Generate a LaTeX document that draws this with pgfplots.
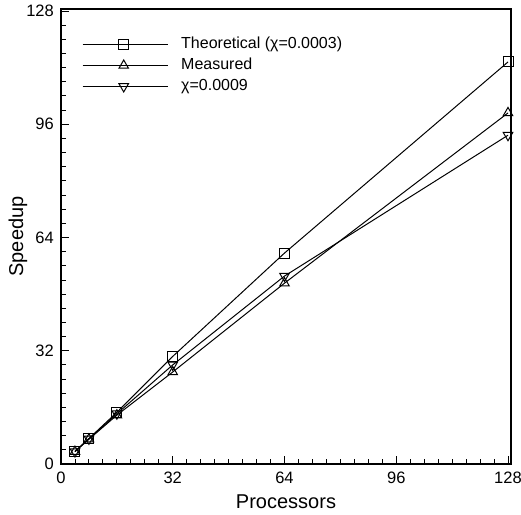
\documentclass[border=0pt]{standalone}
\usepackage{fontspec}
\setmainfont{Liberation Sans}
\usepackage{pgfplots}
\pgfplotsset{compat=1.18}
\begin{document}
\begin{tikzpicture}[x=1bp,y=1bp]
\begin{axis}[
  scale only axis,
  width=450bp, height=455bp,
  xmin=0, xmax=128.86, ymin=0, ymax=128.57,
  xtick={0,32,64,96,128}, ytick={0,32,64,96,128},
  minor xtick={4,8,...,124}, minor ytick={4,8,...,124},
  tick align=inside,
  xtick pos=bottom, ytick pos=left,
  major tick length=8bp, minor tick length=5bp,
  tick style={black, line width=0.9pt},
  axis line style={line width=1.3pt},
  /pgf/number format/assume math mode=true,
  tick label style={font=\fontsize{16.5bp}{18bp}\selectfont},
  xticklabel style={anchor=base, yshift=-19bp},
  yticklabel style={anchor=east, inner sep=0pt, xshift=-7bp},
  xlabel={Processors}, ylabel={Speedup},
  every axis x label/.style={at={(rel axis cs:0.5,0)}, anchor=base, yshift=-44bp, font=\fontsize{20bp}{22bp}\selectfont},
  every axis y label/.style={at={(rel axis cs:0,0.5)}, xshift=-43bp, anchor=center, rotate=90, font=\fontsize{20bp}{22bp}\selectfont},
  legend style={draw=none, fill=none, at={(rel axis cs:0.0467,0.94)}, anchor=north west,
    inner sep=0pt, font=\fontsize{16bp}{18bp}\selectfont, row sep=5bp, column sep=13bp,
    nodes={inner sep=0pt, text height=12bp, text depth=4bp}},
  legend cell align=left,
  legend image code/.code={
    \draw[#1,mark=none] (0bp,0bp) -- (85bp,0bp);
    \draw[#1,only marks] plot coordinates {(41bp,0bp)};
  },
  every axis plot/.append style={black, line width=1pt, mark options={fill=white, solid}},
]
\coordinate (bl) at (rel axis cs:0,0);
\coordinate (tr) at (rel axis cs:1,1);
\addplot[mark=square, mark size=5bp] coordinates {(4,3.6) (8,7.2) (16,14.6) (32,30.4) (64,59.6) (128,113.6)};
\addlegendentry{Theoretical (χ=0.0003)}
\addplot[mark=triangle, mark size=5.5bp] coordinates {(4,3.5) (8,7.0) (16,13.8) (32,26.0) (64,51.1) (128,99.2)};
\addlegendentry{Measured}
\addplot[mark=triangle, mark size=5.5bp, mark options={rotate=180}] coordinates {(4,3.5) (8,7.1) (16,14.2) (32,28.0) (64,53.1) (128,92.9)};
\addlegendentry{χ=0.0009}
\end{axis}
\pgfresetboundingbox
\path ([shift={(-61bp,-51bp)}]bl) rectangle ([shift={(10bp,9bp)}]tr);
\end{tikzpicture}
\end{document}
